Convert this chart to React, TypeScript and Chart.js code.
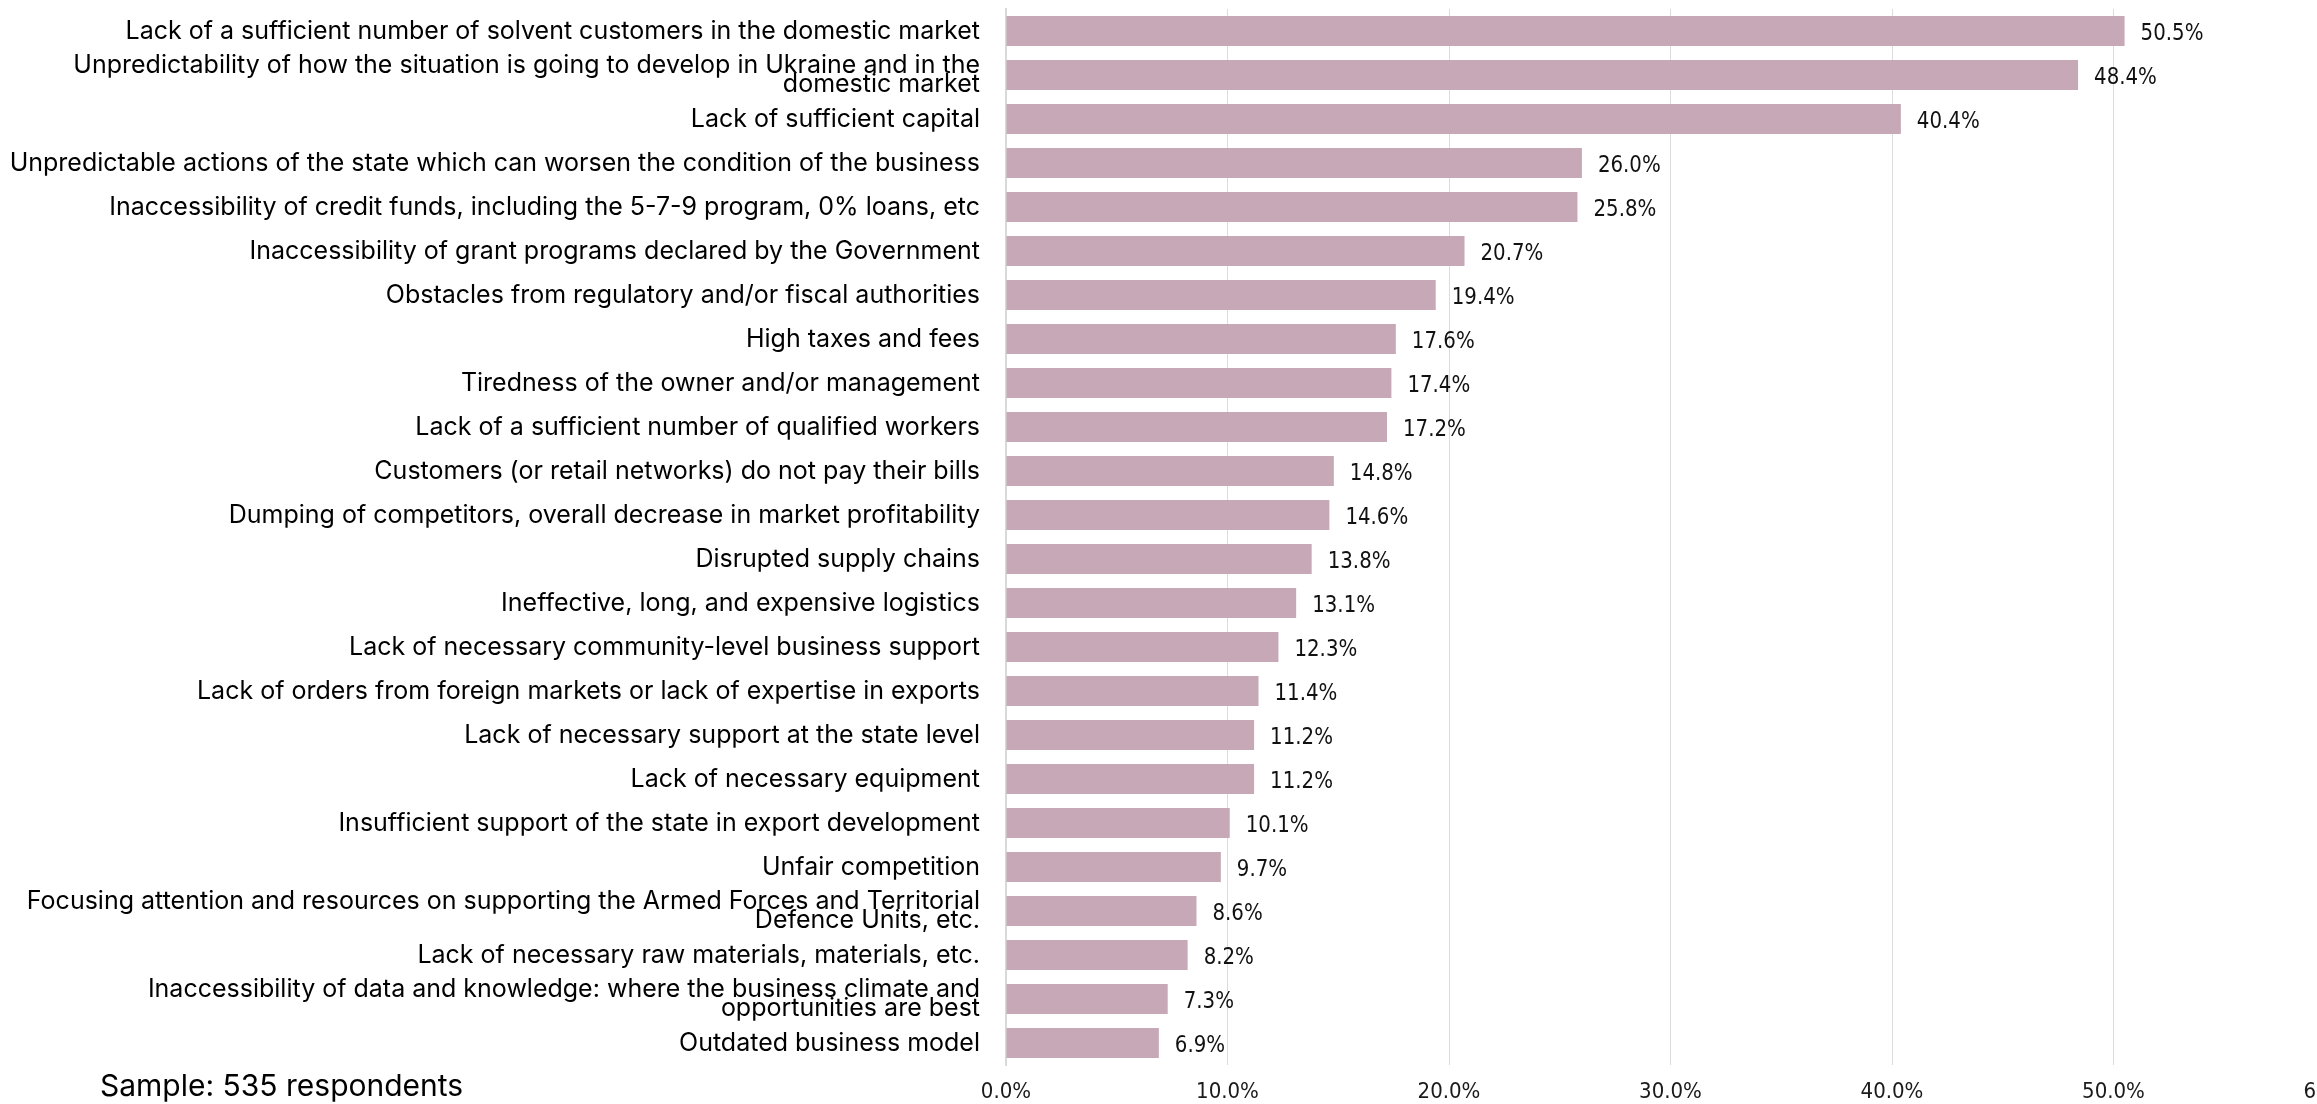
import React, { useEffect, useRef } from "react";
import { Chart, registerables } from "chart.js";

Chart.register(...registerables);

const categories: (string | string[])[] = [
  "Lack of a sufficient number of solvent customers in the domestic market",
  ["Unpredictability of how the situation is going to develop in Ukraine and in the", "domestic market"],
  "Lack of sufficient capital",
  "Unpredictable actions of the state which can worsen the condition of the business",
  "Inaccessibility of credit funds, including the 5-7-9 program, 0% loans, etc",
  "Inaccessibility of grant programs declared by the Government",
  "Obstacles from regulatory and/or fiscal authorities",
  "High taxes and fees",
  "Tiredness of the owner and/or management",
  "Lack of a sufficient number of qualified workers",
  "Customers (or retail networks) do not pay their bills",
  "Dumping of competitors, overall decrease in market profitability",
  "Disrupted supply chains",
  "Ineffective, long, and expensive logistics",
  "Lack of necessary community-level business support",
  "Lack of orders from foreign markets or lack of expertise in exports",
  "Lack of necessary support at the state level",
  "Lack of necessary equipment",
  "Insufficient support of the state in export development",
  "Unfair competition",
  ["Focusing attention and resources on supporting the Armed Forces and Territorial", "Defence Units, etc."],
  "Lack of necessary raw materials, materials, etc.",
  ["Inaccessibility of data and knowledge: where the business climate and", "opportunities are best"],
  "Outdated business model",
];

const values: number[] = [
  50.5, 48.4, 40.4, 26.0, 25.8, 20.7, 19.4, 17.6, 17.4, 17.2, 14.8, 14.6,
  13.8, 13.1, 12.3, 11.4, 11.2, 11.2, 10.1, 9.7, 8.6, 8.2, 7.3, 6.9,
];

const xTicksMax = 60;
const xTickStep = 10;
const sampleNote = "Sample: 535 respondents";

const NUM_FONT = "'DejaVu Sans Condensed', 'Liberation Sans Narrow', 'DejaVu Sans', sans-serif";
const LABEL_FONT = "Inter, 'Noto Sans', sans-serif";

const valueLabelPlugin = {
  id: "valueLabels",
  afterDatasetsDraw(chart: any) {
    const ctx = chart.ctx;
    const meta = chart.getDatasetMeta(0);
    const sy = 1.08;
    ctx.save();
    ctx.font = `22px ${NUM_FONT}`;
    ctx.fillStyle = "#111";
    ctx.textAlign = "left";
    ctx.textBaseline = "middle";
    meta.data.forEach((bar: any, i: number) => {
      const v = chart.data.datasets[0].data[i] as number;
      ctx.save();
      ctx.translate(bar.x + 16, bar.y + 3);
      ctx.scale(1, sy);
      ctx.fillText(v.toFixed(1) + "%", 0, 0);
      ctx.restore();
    });
    ctx.restore();
  },
};

export default function App() {
  const ref = useRef<HTMLCanvasElement | null>(null);

  useEffect(() => {
    if (!ref.current) return;
    const chart = new Chart(ref.current, {
      type: "bar",
      data: {
        labels: categories,
        datasets: [
          {
            data: values,
            backgroundColor: "#C6A8B6",
            categoryPercentage: 1,
            barPercentage: 0.68,
          },
        ],
      },
      options: {
        indexAxis: "y",
        responsive: false,
        animation: false,
        layout: { padding: { top: 9, right: 65, left: 0, bottom: 0 } },
        plugins: { legend: { display: false }, tooltip: { enabled: false } },
        scales: {
          x: {
            min: 0,
            max: xTicksMax,
            ticks: {
              stepSize: xTickStep,
              callback: (v: any) => Number(v).toFixed(1) + "%",
              font: { family: NUM_FONT, size: 22 },
              color: "#1a1a1a",
              padding: 14,
              maxRotation: 0,
            },
            grid: { color: "#dcdcdc", lineWidth: 1, drawTicks: false },
            border: { display: false },
            afterFit: (s: any) => {
              s.height = 39;
              s.paddingLeft = 0;
            },
          },
          y: {
            ticks: {
              font: { family: LABEL_FONT, size: 25, lineHeight: 0.76 },
              color: "#000",
              padding: 26,
              autoSkip: false,
            },
            grid: { display: false, drawTicks: false },
            border: { display: true, color: "#d9d9d9", width: 2 },
            afterFit: (s: any) => {
              s.width = 1006;
              s.paddingTop = 0;
              s.paddingBottom = 0;
            },
          },
        },
      },
      plugins: [valueLabelPlugin],
    });
    return () => chart.destroy();
  }, []);

  return (
    <div
      style={{
        position: "fixed",
        left: 0,
        top: 0,
        width: 2317,
        height: 1104,
        overflow: "hidden",
        background: "#fff",
      }}
    >
      <canvas
        ref={ref}
        width={2400}
        height={1104}
        style={{ position: "absolute", left: 0, top: 0, width: 2400, height: 1104 }}
      />
      <div
        style={{
          position: "absolute",
          left: 100,
          top: 1066,
          fontFamily: LABEL_FONT,
          fontSize: 30,
          lineHeight: "38px",
          color: "#000",
          whiteSpace: "nowrap",
        }}
      >
        {sampleNote}
      </div>
    </div>
  );
}
